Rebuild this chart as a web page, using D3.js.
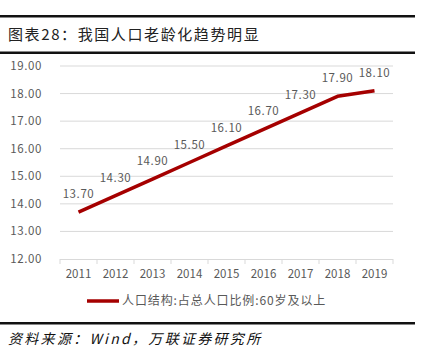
<!DOCTYPE html>
<html>
<head>
<meta charset="utf-8">
<script src="https://cdn.jsdelivr.net/npm/d3@7"></script>
<style>
  html, body { margin: 0; padding: 0; background: #fff; }
  svg { display: block; }
</style>
</head>
<body>
<svg id="chart" width="423" height="350"></svg>
<script>
// Share of population aged 60 and over (%), 2011–2019
const years = ["2011", "2012", "2013", "2014", "2015", "2016", "2017", "2018", "2019"];
const shares = [13.70, 14.30, 14.90, 15.50, 16.10, 16.70, 17.30, 17.90, 18.10];
const yTicks = [12, 13, 14, 15, 16, 17, 18, 19];
const seriesName = "人口结构:占总人口比例:60岁及以上";
const titleText = "图表28：我国人口老龄化趋势明显";
const sourceText = "资料来源：Wind，万联证券研究所";

const svg = d3.select("#chart");
const font = "'Noto Sans CJK SC', 'Noto Sans', sans-serif";
const textGray = "#595959";
const lineRed = "#A50000";

// Header rules and title
svg.append("rect").attr("x", 0).attr("y", 15).attr("width", 415).attr("height", 2.5).attr("fill", "#111");
svg.append("rect").attr("x", 0).attr("y", 51.5).attr("width", 415).attr("height", 2.5).attr("fill", "#111");
svg.append("text")
  .attr("x", 8).attr("y", 40)
  .attr("font-family", font).attr("font-size", 15).attr("letter-spacing", 1.6)
  .attr("fill", "#222")
  .text(titleText);

// Scales
const x = d3.scaleBand().domain(years).range([60, 393]);
const y = d3.scaleLinear().domain([12, 19]).range([259, 66]);

// Horizontal gridlines
svg.append("g")
  .selectAll("line")
  .data(yTicks.filter(d => d !== 12))
  .join("line")
  .attr("x1", 60).attr("x2", 393)
  .attr("y1", d => y(d)).attr("y2", d => y(d))
  .attr("stroke", "#d9d9d9").attr("stroke-width", 1);

// Y axis labels
svg.append("g")
  .selectAll("text")
  .data(yTicks)
  .join("text")
  .attr("x", 42).attr("y", d => y(d) + 4)
  .attr("text-anchor", "end")
  .attr("font-family", font).attr("font-size", 11.5).attr("letter-spacing", 0.6)
  .attr("fill", textGray)
  .text(d => d3.format(".2f")(d));

// X axis with ticks at band boundaries
const xAxis = svg.append("g").attr("transform", "translate(0,259)");
xAxis.append("line").attr("x1", 60).attr("x2", 393).attr("y1", 0.5).attr("y2", 0.5)
  .attr("stroke", "#d9d9d9");
const bounds = years.map(d => x(d)).concat([x.range()[1]]);
xAxis.selectAll("line.tick")
  .data(bounds)
  .join("line")
  .attr("class", "tick")
  .attr("x1", d => d).attr("x2", d => d)
  .attr("y1", 0).attr("y2", 5)
  .attr("stroke", "#d9d9d9");
xAxis.selectAll("text")
  .data(years)
  .join("text")
  .attr("x", d => x(d) + x.bandwidth() / 2)
  .attr("y", 19)
  .attr("text-anchor", "middle")
  .attr("font-family", font).attr("font-size", 11.5)
  .attr("fill", textGray)
  .text(d => d);

// Series line
const line = d3.line()
  .x((d, i) => x(years[i]) + x.bandwidth() / 2)
  .y(d => y(d));
svg.append("path")
  .datum(shares)
  .attr("d", line)
  .attr("fill", "none")
  .attr("stroke", lineRed)
  .attr("stroke-width", 3.5)
  .attr("stroke-linejoin", "round");

// Value labels
svg.append("g")
  .selectAll("text")
  .data(shares)
  .join("text")
  .attr("x", (d, i) => x(years[i]) + x.bandwidth() / 2)
  .attr("y", d => y(d) - 14)
  .attr("text-anchor", "middle")
  .attr("font-family", font).attr("font-size", 11.5).attr("letter-spacing", 0.6)
  .attr("fill", textGray)
  .text(d => d3.format(".2f")(d));

// Legend
svg.append("line")
  .attr("x1", 87).attr("x2", 119).attr("y1", 301).attr("y2", 301)
  .attr("stroke", lineRed).attr("stroke-width", 3.5);
svg.append("text")
  .attr("x", 122).attr("y", 305)
  .attr("font-family", font).attr("font-size", 12).attr("letter-spacing", 0.9)
  .attr("fill", textGray)
  .text(seriesName);

// Footer rule and source note
svg.append("rect").attr("x", 0).attr("y", 322).attr("width", 415).attr("height", 2.5).attr("fill", "#111");
svg.append("text")
  .attr("x", 8).attr("y", 344)
  .attr("font-family", font).attr("font-size", 14).attr("font-style", "italic")
  .attr("letter-spacing", 2.3)
  .attr("fill", "#111")
  .text(sourceText);
</script>
</body>
</html>
